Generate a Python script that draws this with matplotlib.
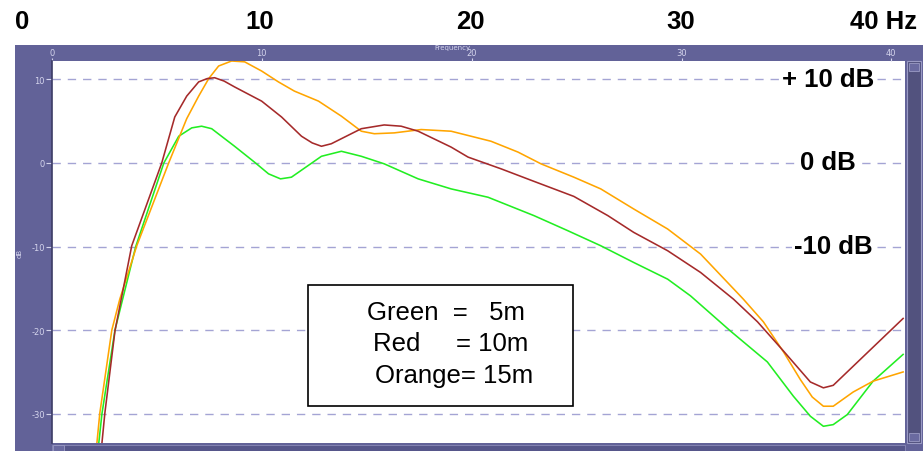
import matplotlib
matplotlib.use("Agg")
import matplotlib.pyplot as plt
from matplotlib.patches import Rectangle

# frequency (Hz) and level (dB)
greenFreq = [2.23, 2.38, 3.00, 3.99, 5.33, 6.04, 6.66, 7.13, 7.61, 8.70, 9.65, 10.32, 10.89,
             11.41, 12.84, 13.79, 14.74, 15.83, 17.45, 19.02, 20.78, 22.97, 24.58, 26.15,
             27.72, 29.34, 30.43, 32.33, 34.09, 35.33, 36.14, 36.76, 37.23, 37.90, 39.13, 40.56]
greenDb = [-33.5, -30.0, -20.0, -10.0, 0.0, 3.2, 4.2, 4.4, 4.1, 2.0, 0.1, -1.3, -1.9,
           -1.7, 0.8, 1.4, 0.8, -0.1, -1.9, -3.1, -4.1, -6.3, -8.1, -9.9,
           -11.9, -13.9, -15.9, -20.1, -23.8, -27.9, -30.3, -31.5, -31.3, -30.1, -26.1, -22.9]

redFreq = [2.38, 2.52, 3.00, 3.80, 5.23, 5.85, 6.42, 6.99, 7.40, 7.75, 8.20, 8.70, 9.99, 10.94,
           11.89, 12.40, 12.84, 13.31, 14.74, 15.83, 16.64, 17.45, 19.02, 19.83, 21.40, 22.97,
           24.87, 26.49, 27.72, 29.34, 30.91, 32.48, 33.62, 34.86, 36.14, 36.76, 37.23, 38.52, 40.56]
redDb = [-33.5, -29.9, -20.1, -9.9, 0.0, 5.5, 8.0, 9.7, 10.1, 10.2, 9.8, 9.1, 7.4, 5.5,
         3.2, 2.4, 2.0, 2.3, 4.1, 4.55, 4.4, 3.8, 1.9, 0.7, -0.7, -2.2,
         -4.0, -6.3, -8.3, -10.5, -13.1, -16.3, -19.0, -22.5, -26.2, -26.9, -26.6, -23.5, -18.6]

orangeFreq = [2.14, 2.28, 2.85, 3.23, 4.04, 5.56, 6.42, 6.99, 7.47, 7.94, 8.56, 9.18, 9.99,
              10.79, 11.55, 12.70, 13.79, 14.74, 15.36, 16.31, 17.59, 19.02, 20.92, 22.21,
              23.30, 24.87, 26.15, 27.72, 29.34, 30.91, 32.95, 33.90, 34.86, 35.66, 36.23,
              36.76, 37.23, 38.18, 39.13, 40.56]
orangeDb = [-33.5, -29.9, -20.0, -16.3, -9.9, 0.0, 5.3, 8.0, 10.1, 11.6, 12.2, 12.1, 11.0,
            9.7, 8.6, 7.4, 5.6, 3.8, 3.5, 3.6, 4.0, 3.8, 2.6, 1.3,
            -0.1, -1.7, -3.1, -5.5, -7.9, -10.9, -16.3, -19.0, -22.6, -25.9, -28.0,
            -29.1, -29.1, -27.4, -26.1, -25.0]

freqTicks = [0, 10, 20, 30, 40]
dbTicks = [10, 0, -10, -20, -30]
topLabels = ["0", "10", "20", "30", "40 Hz"]
dbLabels = ["+ 10 dB", "0 dB", "-10 dB"]
legendLines = ["Green  =   5m", "Red     = 10m", "Orange= 15m"]

W, H = 923, 452
FRAME = "#626298"
LIGHT = "#d4d4ec"


def fx(px):
    return px / W


def fy(py):
    return 1 - py / H


def addRect(fig, x0, y0, x1, y1, z, **kw):
    fig.patches.append(Rectangle((fx(x0), fy(y1)), fx(x1) - fx(x0), fy(y0) - fy(y1),
                                 transform=fig.transFigure, zorder=z, **kw))


def main():
    fig = plt.figure(figsize=(W / 100, H / 100), dpi=100)
    fig.patch.set_facecolor("white")

    # purple window frame and scroll bars
    addRect(fig, 15, 46, 923, 452, -5, facecolor=FRAME, edgecolor="none")
    addRect(fig, 907, 62, 921, 444, -4, facecolor="#52527e", edgecolor="#9a9ac4", linewidth=0.8)
    addRect(fig, 909, 64, 919, 72, -3, facecolor="#6a6aa0", edgecolor="#9a9ac4", linewidth=0.6)
    addRect(fig, 909, 434, 919, 442, -3, facecolor="#6a6aa0", edgecolor="#9a9ac4", linewidth=0.6)
    addRect(fig, 52, 446, 905, 452, -4, facecolor="#56568a", edgecolor="#8a8ab8", linewidth=0.6)
    addRect(fig, 53, 446, 64, 452, -3, facecolor="#6a6aa0", edgecolor="#9a9ac4", linewidth=0.6)

    ax = fig.add_axes([fx(52), fy(444), fx(905) - fx(52), fy(62) - fy(444)])
    ax.set_zorder(1)
    ax.set_facecolor("white")
    ax.set_xlim(0.1, 40.65)
    ax.set_ylim(-33.5, 12.2)

    for y in dbTicks:
        ax.axhline(y, color="#a4a4d4", linewidth=1.0, dashes=(6, 5), snap=True, zorder=1)

    ax.plot(greenFreq, greenDb, color="#22ee22", linewidth=1.15, zorder=3)
    ax.plot(orangeFreq, orangeDb, color="#ffa500", linewidth=1.15, zorder=3)
    ax.plot(redFreq, redDb, color="#a52a2a", linewidth=1.15, zorder=4)

    ax.xaxis.tick_top()
    ax.set_xticks(freqTicks)
    ax.set_xticklabels([str(t) for t in freqTicks])
    ax.set_yticks(dbTicks)
    ax.set_yticklabels([str(t) for t in dbTicks])
    ax.tick_params(axis="x", colors=LIGHT, labelsize=6, length=2, pad=1)
    ax.tick_params(axis="y", colors=LIGHT, labelsize=6, length=4, pad=1)
    for name in ["top", "right", "bottom"]:
        ax.spines[name].set_visible(False)
    ax.spines["left"].set_color("#3c3c66")
    ax.spines["left"].set_linewidth(1.2)

    fig.text(fx(452), fy(48), "Frequency", color=LIGHT, fontsize=5, ha="center", va="center")
    fig.text(fx(20), fy(253), "dB", color=LIGHT, fontsize=5, ha="center", va="center", rotation=90)

    # added annotations
    bold = dict(fontfamily="Liberation Sans", fontweight="bold", fontsize=18.5, va="center")
    topX = [22, 260, 470, 681, 884]
    for label, x in zip(topLabels, topX):
        fig.text(fx(x), fy(22), label, ha="center", **bold)
    labelPos = [(828, 80), (828, 163), (833, 247)]
    for label, (x, y) in zip(dbLabels, labelPos):
        fig.text(fx(x), fy(y), label, ha="center", zorder=10,
                 bbox=dict(facecolor="white", edgecolor="none", pad=1), **bold)

    addRect(fig, 308, 286, 573, 407, 9, facecolor="white", edgecolor="black", linewidth=1.2)
    legendPos = [(367, 313), (373, 344), (375, 376)]
    for line, (x, y) in zip(legendLines, legendPos):
        fig.text(fx(x), fy(y), line, fontfamily="Liberation Sans", fontsize=18.5,
                 ha="left", va="center", zorder=11)

    fig.savefig("out.png", dpi=100)


if __name__ == "__main__":
    main()
